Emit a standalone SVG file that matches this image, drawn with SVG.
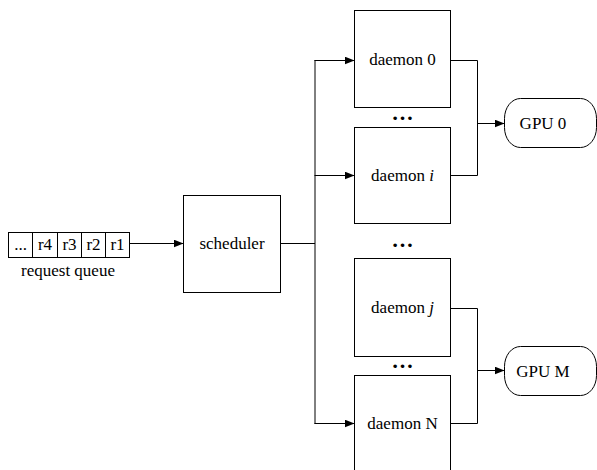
<svg xmlns="http://www.w3.org/2000/svg" width="597" height="470" viewBox="0 0 597 470">
  <defs>
    <marker id="arrow" viewBox="0 0 10 8" refX="10" refY="4" markerWidth="10" markerHeight="8" markerUnits="userSpaceOnUse" orient="auto">
      <path d="M0,0 L10,4 L0,8 Z" fill="#000"/>
    </marker>
  </defs>
  <style>
    .box { fill: #fff; stroke: #000; stroke-width: 1; }
    text { font-family: 'Liberation Serif', 'Times New Roman', Times, serif; font-size: 17px; fill: #000; text-anchor: middle; }
    .wire { fill: none; stroke: #000; stroke-width: 1; }
    .dots { font-size: 22px; font-weight: bold; }
  </style>

  <!-- request queue -->
  <g id="queue" font-family="Liberation Serif, serif">
    <rect class="box" x="8.5" y="232.5" width="121" height="25"/>
    <line class="wire" x1="32.5" y1="232.5" x2="32.5" y2="257.5"/>
    <line class="wire" x1="57.5" y1="232.5" x2="57.5" y2="257.5"/>
    <line class="wire" x1="81.5" y1="232.5" x2="81.5" y2="257.5"/>
    <line class="wire" x1="105.5" y1="232.5" x2="105.5" y2="257.5"/>
    <text x="20.5" y="250">...</text>
    <text x="45" y="250">r4</text>
    <text x="69.5" y="250">r3</text>
    <text x="93.5" y="250">r2</text>
    <text x="117.5" y="250">r1</text>
    <text x="68" y="276">request queue</text>
  </g>

  <!-- scheduler -->
  <g id="scheduler">
    <rect class="box" x="183.5" y="195.5" width="97" height="97"/>
    <text x="232" y="249">scheduler</text>
  </g>

  <!-- daemons -->
  <g id="daemon-0">
    <rect class="box" x="354.5" y="10.5" width="96" height="97"/>
    <text x="402.5" y="65">daemon 0</text>
  </g>
  <g id="daemon-i">
    <rect class="box" x="354.5" y="127.5" width="96" height="96"/>
    <text x="402.5" y="181">daemon <tspan font-style="italic">i</tspan></text>
  </g>
  <g id="daemon-j">
    <rect class="box" x="354.5" y="258.5" width="96" height="98"/>
    <text x="402.5" y="313">daemon <tspan font-style="italic">j</tspan></text>
  </g>
  <g id="daemon-N">
    <rect class="box" x="354.5" y="375.5" width="96" height="100"/>
    <text x="402.5" y="429">daemon N</text>
  </g>

  <!-- ellipses between daemons -->
  <g id="gaps">
    <text class="dots" x="402.5" y="120">…</text>
    <text class="dots" x="402.5" y="247">…</text>
    <text class="dots" x="402.5" y="368">…</text>
  </g>

  <!-- GPUs -->
  <g id="gpu-0">
    <rect class="box" x="504.5" y="98.5" width="92" height="49" rx="16" ry="20"/>
    <text x="543" y="129">GPU 0</text>
  </g>
  <g id="gpu-M">
    <rect class="box" x="504.5" y="346.5" width="92" height="49" rx="16" ry="20"/>
    <text x="543" y="377">GPU M</text>
  </g>

  <!-- connectors -->
  <g id="connectors">
    <line class="wire" x1="129.5" y1="243.5" x2="183.5" y2="243.5" marker-end="url(#arrow)"/>
    <line class="wire" x1="280.5" y1="243.5" x2="315" y2="243.5" stroke-width="2"/>
    <line class="wire" x1="315" y1="60" x2="315" y2="424"/>
    <line class="wire" x1="314.5" y1="60.5" x2="354.5" y2="60.5" marker-end="url(#arrow)"/>
    <line class="wire" x1="314.5" y1="175.5" x2="354.5" y2="175.5" marker-end="url(#arrow)"/>
    <line class="wire" x1="314.5" y1="423.5" x2="354.5" y2="423.5" marker-end="url(#arrow)"/>
    <polyline class="wire" points="450.5,60.5 477.5,60.5 477.5,175.5 450.5,175.5"/>
    <line class="wire" x1="477.5" y1="123.5" x2="504.5" y2="123.5" marker-end="url(#arrow)"/>
    <polyline class="wire" points="450.5,308.5 477.5,308.5 477.5,423.5 450.5,423.5"/>
    <line class="wire" x1="477.5" y1="370.5" x2="504.5" y2="370.5" marker-end="url(#arrow)"/>
  </g>
</svg>
